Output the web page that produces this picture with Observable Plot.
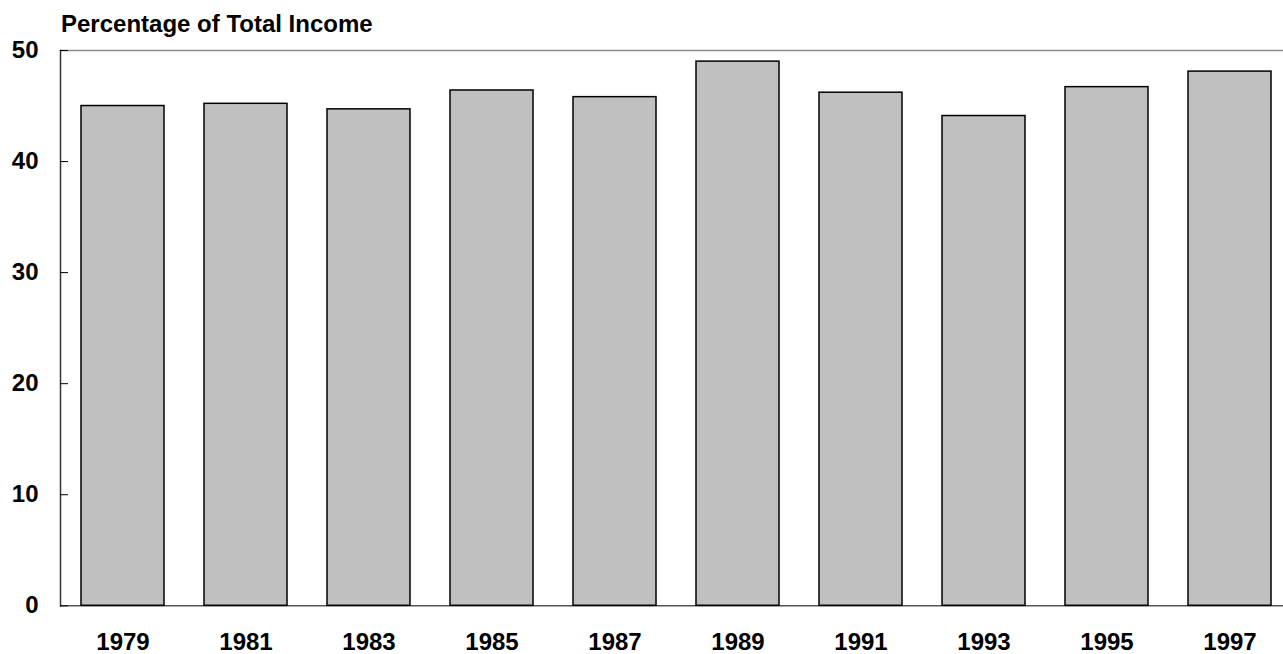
<!DOCTYPE html>
<html>
<head>
<meta charset="utf-8">
<script src="https://cdn.jsdelivr.net/npm/d3@7"></script>
<script src="https://cdn.jsdelivr.net/npm/@observablehq/plot@0.6"></script>
<style>
  html, body { margin: 0; padding: 0; background: #fff; }
  #wrap { position: relative; width: 1283px; height: 654px; }
  #title { position: absolute; left: 61px; top: 12px; z-index: 2; font-family: "Liberation Sans", Arial, sans-serif;
           font-weight: bold; font-size: 24px; line-height: 24px; color: #000; white-space: nowrap; }
  #chart { position: absolute; left: 0; top: 30px; z-index: 1; }
</style>
</head>
<body>
<div id="wrap">
  <div id="title">Percentage of Total Income</div>
  <div id="chart"></div>
</div>
<script>
const years = ["1979", "1981", "1983", "1985", "1987", "1989", "1991", "1993", "1995", "1997"];
const shares = [45.0, 45.2, 44.7, 46.4, 45.8, 49.0, 46.2, 44.1, 46.7, 48.1];
const yTicks = [0, 10, 20, 30, 40, 50];

const data = years.map((y, i) => ({year: y, value: shares[i]}));

const chart = Plot.plot({
  width: 1283,
  height: 624,
  marginLeft: 60,
  marginRight: 0,
  marginTop: 20,
  marginBottom: 48.7,
  style: {fontFamily: "'Liberation Sans', Arial, sans-serif", fontWeight: "bold", fontSize: "24px", color: "#000", background: "transparent", overflow: "visible"},
  x: {domain: years, range: [60, 1293], paddingInner: 0.325, paddingOuter: 0.1625, label: null},
  y: {domain: [0, 50], label: null},
  marks: [
    Plot.frame({anchor: "top", stroke: "#8a8a8a", strokeWidth: 1.5}),
    Plot.ruleY([0], {stroke: "#555", strokeWidth: 1.5}),
    Plot.barY(data, {x: "year", y: "value", fill: "#c0c0c0", stroke: "#000", strokeWidth: 1.5}),
    Plot.frame({anchor: "left", stroke: "#333", strokeWidth: 1.5}),
    Plot.axisY(yTicks, {tickSize: 8, dx: 8, text: null, stroke: "#000"}),
    Plot.axisY(yTicks, {tickSize: 0, tickPadding: 22, fontSize: 24, fontWeight: "bold", fill: "#000"}),
    Plot.axisX({tickSize: 0, tickPadding: 27, fontSize: 24, fontWeight: "bold", fill: "#000"})
  ]
});
document.getElementById("chart").appendChild(chart);
</script>
</body>
</html>
